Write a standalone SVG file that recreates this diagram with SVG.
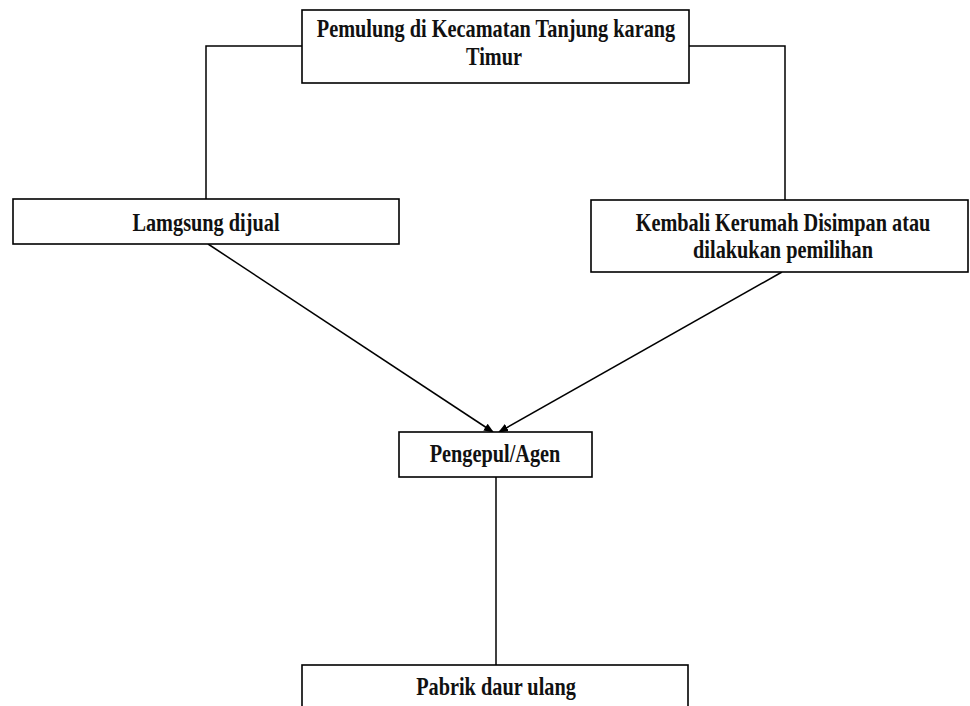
<svg xmlns="http://www.w3.org/2000/svg" width="970" height="706" viewBox="0 0 970 706">
<style>
.box{fill:#fff;stroke:#000;stroke-width:1.6}
.lbl{font-family:"Liberation Serif","Times New Roman",serif;font-weight:bold;font-size:20.3px;fill:#111;text-anchor:middle}
.ln{stroke:#000;stroke-width:1.5;fill:none}
</style>
<defs>
<marker id="ah" markerWidth="10" markerHeight="10" refX="9" refY="5" orient="auto" markerUnits="userSpaceOnUse">
<path d="M0,1 L10,5 L0,9 Z" fill="#000"/>
</marker>
</defs>
<rect width="970" height="706" fill="#fff"/>
<g id="connectors">
<polyline class="ln" points="302,46 206,46 206,199"/>
<polyline class="ln" points="689,46 785,46 785,200"/>
<line class="ln" x1="208" y1="244" x2="493" y2="432" marker-end="url(#ah)"/>
<line class="ln" x1="782" y1="272" x2="499" y2="432" marker-end="url(#ah)"/>
<line class="ln" x1="496" y1="477" x2="496" y2="665"/>
</g>
<g id="node-pemulung">
<rect class="box" x="302" y="10" width="387" height="73"/>
<text class="lbl" transform="translate(496,37) scale(1,1.2)">Pemulung di Kecamatan Tanjung karang</text>
<text class="lbl" transform="translate(494,65) scale(1,1.2)">Timur</text>
</g>
<g id="node-langsung">
<rect class="box" x="13" y="199" width="386" height="45"/>
<text class="lbl" transform="translate(206,231) scale(1,1.2)">Lamgsung dijual</text>
</g>
<g id="node-kembali">
<rect class="box" x="591" y="200" width="377" height="72"/>
<text class="lbl" transform="translate(783,231) scale(1,1.2)">Kembali Kerumah Disimpan atau</text>
<text class="lbl" transform="translate(783,258) scale(1,1.2)">dilakukan pemilihan</text>
</g>
<g id="node-pengepul">
<rect class="box" x="399" y="432" width="193" height="45"/>
<text class="lbl" transform="translate(495,462) scale(1,1.2)">Pengepul/Agen</text>
</g>
<g id="node-pabrik">
<rect class="box" x="302" y="665" width="386" height="50"/>
<text class="lbl" transform="translate(496,695) scale(1,1.2)">Pabrik daur ulang</text>
</g>
</svg>
